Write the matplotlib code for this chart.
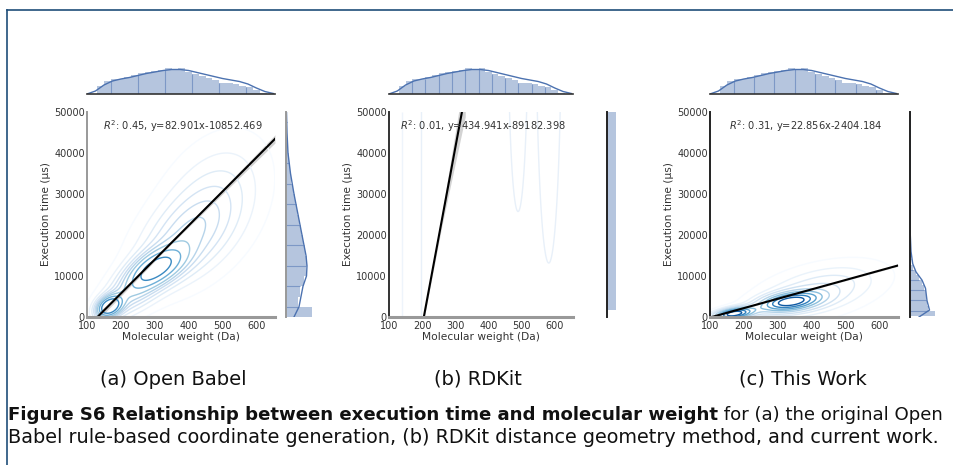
import numpy as np
import matplotlib.pyplot as plt
from matplotlib.lines import Line2D

W, H = 954, 465

# molecular weight distribution (same molecule set in all three panels)
mw_edges = np.arange(130, 631, 20)
mw_counts = [8, 13, 14.7, 14.7, 16.7, 19, 21.3, 22.3, 23.3, 24, 26, 24.7, 26,
             22, 20, 18, 15.7, 14, 11.3, 10.7, 10, 8, 6.7, 4, 1.3]
mw_kde_x = [100, 125, 150, 175, 200, 225, 250, 275, 300, 325, 350, 375, 400,
            425, 450, 475, 500, 525, 550, 575, 600, 625, 650]
mw_kde_y = [0, 3, 9, 13, 15, 16.5, 18.5, 20.5, 22, 23.5, 24.5, 24.5, 23.5,
            21.5, 19.5, 17.5, 15.5, 14, 12.5, 10, 6, 2.5, 0.5]

# panels
titles = ['(a) Open Babel', '(b) RDKit', '(c) This Work']
r2 = [0.45, 0.01, 0.31]
slopes = [82.901, 434.941, 22.856]
intercepts = [-10852.469, -89182.398, -2404.184]

# confidence band of the fit (x, half width in us)
ci_x = [[100, 350, 655], [200, 260, 330], [100, 655]]
ci_half = [[900, 250, 1000], [600, 1500, 5500], [150, 200]]

# execution time distributions (right margins)
ob_time_edges = np.arange(0, 50001, 2500)
ob_time_counts = [26, 12, 14, 18, 20, 21, 19, 17, 15, 13, 11, 9, 7, 5, 3.5,
                  2.5, 1.5, 1, 0.7, 0.5]
ob_kde_t = [0, 2500, 5000, 7500, 10000, 12500, 15000, 20000, 25000, 30000,
            35000, 40000, 45000, 50000]
ob_kde_d = [8, 13, 15, 17, 20.5, 21, 20, 16, 12, 8, 4.5, 2, 1, 0.5]

rd_time_edges = [1700, 60000]
rd_time_counts = [8.5]

tw_time_edges = [300, 1550, 2800, 4050, 5300, 6550, 7800, 9050, 10300, 11550,
                 12800, 14050, 15300]
tw_time_counts = [25, 18, 17.5, 16.5, 16, 14, 12, 9, 6, 3.5, 1.5, 0.8]
tw_kde_t = [0, 1700, 4000, 7000, 9000, 11000, 13000, 16000, 20000, 25000, 50000]
tw_kde_d = [9, 19.5, 17, 15.5, 12, 6, 2.7, 1, 0.3, 0.1, 0]

# joint density, as gaussian components (mx, my, sx, sy, rho, weight)
ob_comps = [(165, 2500, 24, 1700, 0.3, 0.06),
            (305, 12000, 55, 3200, 0.5, 0.15),
            (375, 18000, 95, 7500, 0.45, 0.29),
            (230, 6000, 65, 4500, 0.6, 0.14),
            (470, 28000, 105, 10500, 0.35, 0.36)]
tw_comps = [(170, 800, 38, 1000, 0.4, 0.15),
            (335, 3700, 60, 1600, 0.4, 0.33),
            (420, 6300, 120, 4400, 0.45, 0.52)]
# rdkit: density spread far beyond the axis -> ridge in x with two dips
rd_ridge = (470, 170)
rd_dips = [(489, 75000, 18, 30000, 2.76), (580, 75000, 18, 30000, 4.44)]
rd_level_x = [138, 198]

time_data = [(ob_time_edges, ob_time_counts, ob_kde_t, ob_kde_d),
             (rd_time_edges, rd_time_counts, None, None),
             (tw_time_edges, tw_time_counts, tw_kde_t, tw_kde_d)]

# layout in pixels: (left, width), right margin left
main_px = [(87, 188), (389, 184), (710, 188)]
marg_left = [286, 607, 910]
left_spine = ['#999999', '#333333', '#222222']
marg_spine = ['#999999', '#222222', '#222222']
title_cx = [173, 478, 803]

HIST_C = '#b5c5de'
LINE_C = '#4c72b0'
DIV_C = '#7d98c6'
TXT = '#333333'


def box(left, top, w, h):
    return [left / W, 1 - (top + h) / H, w / W, h / H]


def gauss2d(X, Y, comps):
    Z = np.zeros_like(X)
    for mx, my, sx, sy, rho, w in comps:
        dx = (X - mx) / sx
        dy = (Y - my) / sy
        q = (dx**2 - 2 * rho * dx * dy + dy**2) / (1 - rho**2)
        Z += w * np.exp(-q / 2) / (sx * sy * np.sqrt(1 - rho**2))
    return Z


def rd_ridge_field(X):
    return np.exp(-0.5 * ((X - rd_ridge[0]) / rd_ridge[1])**2)


def rd_field(X, Y):
    Z = rd_ridge_field(X)
    for mx, my, sx, sy, h in rd_dips:
        Z = Z - h * np.exp(-0.5 * (((X - mx) / sx)**2 + ((Y - my) / sy)**2))
    return Z


def iso_levels(Z, n=10, thresh=0.05):
    props = np.linspace(thresh, 1, n)
    vals = np.sort(Z.ravel())[::-1]
    cum = np.cumsum(vals)
    cum /= cum[-1]
    idx = np.clip(np.searchsorted(cum, 1 - props), 0, len(vals) - 1)
    return np.unique(vals[idx])


fig = plt.figure(figsize=(W / 100, H / 100), dpi=100)

xg = np.linspace(100, 655, 320)
yg = np.linspace(0, 50000, 320)
X, Y = np.meshgrid(xg, yg)

for i in range(3):
    left, w = main_px[i]
    ax = fig.add_axes(box(left, 112, w, 205))
    axt = fig.add_axes(box(left, 65, w, 29))
    axr = fig.add_axes(box(marg_left[i], 112, 30, 205))

    # joint density
    if i == 0:
        Z = gauss2d(X, Y, ob_comps)
        ax.contour(X, Y, Z, levels=iso_levels(Z), cmap='Blues', linewidths=1.0)
    elif i == 2:
        Z = gauss2d(X, Y, tw_comps)
        ax.contour(X, Y, Z, levels=iso_levels(Z), cmap='Blues', linewidths=1.0)
    else:
        lv1, lv2 = [np.exp(-0.5 * ((x - rd_ridge[0]) / rd_ridge[1])**2)
                    for x in rd_level_x]
        ax.contour(X, Y, rd_ridge_field(X), levels=[lv1], colors=['#eef4fb'],
                   linewidths=1.0)
        ax.contour(X, Y, rd_field(X, Y), levels=[lv2], colors=['#e8f0f9'],
                   linewidths=1.0)

    # regression line + band
    xs = np.array([100, 655])
    cx = np.array(ci_x[i])
    cy = slopes[i] * cx + intercepts[i]
    ch = np.array(ci_half[i])
    ax.fill_between(cx, cy - ch, cy + ch, color='#c8c8c8', alpha=0.8, lw=0)
    ax.plot(xs, slopes[i] * xs + intercepts[i], color='black', lw=1.5)

    ax.text(0.51, 0.93, rf'$R^2$: {r2[i]:.2f}, y={slopes[i]:.3f}x{intercepts[i]:.3f}',
            transform=ax.transAxes, ha='center', va='center', fontsize=7.1, color=TXT)

    ax.set_xlim(100, 655)
    ax.set_ylim(0, 50000)
    ax.set_xticks(range(100, 601, 100))
    ax.set_yticks(range(0, 50001, 10000))
    ax.tick_params(length=0, pad=1.5, labelsize=7, labelcolor=TXT)
    ax.tick_params(axis='x', pad=3)
    ax.set_xlabel('Molecular weight (Da)', fontsize=7.7, color=TXT, labelpad=0.5)
    ax.set_ylabel('Execution time (μs)', fontsize=7.7, color=TXT, labelpad=2)
    for s in ['top', 'right']:
        ax.spines[s].set_visible(False)
    ax.spines['left'].set_color(left_spine[i])
    ax.spines['left'].set_linewidth(1.4)
    ax.spines['bottom'].set_color('#999999')
    ax.spines['bottom'].set_linewidth(2.2)

    # top margin
    axt.bar(mw_edges[:-1], mw_counts, width=np.diff(mw_edges), align='edge',
            color=HIST_C, lw=0)
    stride = [4, 2, 3][i]
    for k in range(2, len(mw_edges) - 1, stride):
        axt.vlines(mw_edges[k], 0, min(mw_counts[k - 1], mw_counts[k]),
                   color=DIV_C, lw=0.8)
    axt.plot(mw_kde_x, mw_kde_y, color=LINE_C, lw=1.0)
    axt.set_xlim(100, 655)
    axt.set_ylim(0, 29)
    axt.set_xticks([])
    axt.set_yticks([])
    for s in ['top', 'right', 'left']:
        axt.spines[s].set_visible(False)
    axt.spines['bottom'].set_color('#333333')
    axt.spines['bottom'].set_linewidth(1.2)

    # right margin
    edges, counts, kt, kd = time_data[i]
    edges = np.array(edges)
    axr.barh(edges[:-1], counts, height=np.diff(edges), align='edge',
             color=HIST_C, lw=0)
    for k in range(1, len(edges) - 1, 2):
        axr.hlines(edges[k], 0, min(counts[k - 1], counts[k]), color=DIV_C, lw=0.8)
    if kt is not None:
        axr.plot(kd, kt, color=LINE_C, lw=1.0)
    axr.set_ylim(0, 50000)
    axr.set_xlim(0, 30)
    axr.set_xticks([])
    axr.set_yticks([])
    for s in ['top', 'right', 'bottom']:
        axr.spines[s].set_visible(False)
    axr.spines['left'].set_color(marg_spine[i])
    axr.spines['left'].set_linewidth(1.4)

    fig.text(title_cx[i] / W, 1 - 379 / H, titles[i], ha='center', va='center',
             fontsize=14, color='#111111')

# caption, fitted to the page width of the reference
r = fig.canvas.get_renderer()
y1, y2 = 1 - 415 / H, 1 - 437 / H
t1 = fig.text(8 / W, y1, 'Figure S6 Relationship between execution time and molecular weight',
              ha='left', va='center', fontsize=12, fontweight='bold', color='#111111')
t2 = fig.text(0, y1, ' for (a) the original Open', ha='left', va='center',
              fontsize=12, color='#111111')
t3 = fig.text(8 / W, y2,
              'Babel rule-based coordinate generation, (b) RDKit distance geometry method, and current work.',
              ha='left', va='center', fontsize=12, color='#111111')
w12 = t1.get_window_extent(r).width + t2.get_window_extent(r).width
fs1 = 12 * 932 / w12
t1.set_fontsize(fs1)
t2.set_fontsize(fs1)
t2.set_x(t1.get_window_extent(r).x1 / W)
t3.set_fontsize(12 * 927 / t3.get_window_extent(r).width)

# page frame
fig.add_artist(Line2D([7 / W, 1], [1 - 10 / H, 1 - 10 / H], color='#1f4e79', lw=1.2))
fig.add_artist(Line2D([7 / W, 7 / W], [1 - 10 / H, 0], color='#1f4e79', lw=1.2))

fig.savefig('out.png', dpi=100)
